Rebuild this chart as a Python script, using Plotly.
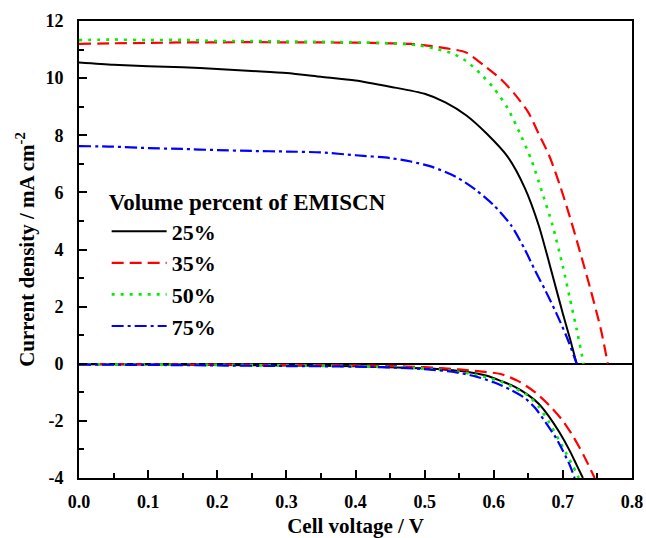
import plotly.graph_objects as go

# ---------------- data ----------------
labels = ["25%", "35%", "50%", "75%"]
colors = ["#000000", "#ff0000", "#00ee00", "#0000ff"]
dashes = ["solid", "12px,6px", "3px,6px", "12px,4px,3px,4px"]
widths = [2, 2.2, 2.6, 2.2]

x_tickvals = [0.0, 0.1, 0.2, 0.3, 0.4, 0.5, 0.6, 0.7, 0.8]
x_ticktext = ["0.0", "0.1", "0.2", "0.3", "0.4", "0.5", "0.6", "0.7", "0.8"]
y_tickvals = [-4, -2, 0, 2, 4, 6, 8, 10, 12]
y_ticktext = ["-4", "-2", "0", "2", "4", "6", "8", "10", "12"]

# illuminated J-V curves (upper part)
v_light_25 = [0, 0.05, 0.1, 0.15, 0.2, 0.25, 0.3, 0.35, 0.4, 0.45, 0.5, 0.53, 0.56, 0.59, 0.62, 0.645, 0.665, 0.685, 0.70, 0.71, 0.72]
j_light_25 = [10.55, 10.47, 10.42, 10.38, 10.32, 10.25, 10.18, 10.05, 9.92, 9.7, 9.45, 9.15, 8.7, 8.05, 7.25, 6.15, 4.85, 3.1, 1.75, 0.9, 0.0]

v_light_35 = [0, 0.05, 0.1, 0.15, 0.2, 0.25, 0.3, 0.35, 0.4, 0.45, 0.48, 0.51, 0.535, 0.56, 0.585, 0.61, 0.63, 0.65, 0.665, 0.68, 0.695, 0.71, 0.725, 0.74, 0.755, 0.765]
j_light_35 = [11.2, 11.22, 11.23, 11.25, 11.25, 11.26, 11.25, 11.25, 11.24, 11.22, 11.2, 11.12, 11.03, 10.9, 10.46, 9.97, 9.45, 8.8, 8.05, 7.3, 6.3, 5.15, 3.9, 2.6, 1.2, 0.0]

v_light_50 = [0, 0.05, 0.1, 0.15, 0.2, 0.25, 0.3, 0.35, 0.4, 0.45, 0.49, 0.515, 0.54, 0.56, 0.58, 0.6, 0.62, 0.64, 0.655, 0.67, 0.685, 0.70, 0.71, 0.72, 0.73]
j_light_50 = [11.33, 11.35, 11.33, 11.34, 11.3, 11.3, 11.28, 11.27, 11.25, 11.22, 11.15, 11.03, 10.87, 10.6, 10.17, 9.65, 8.95, 7.95, 7.1, 6.0, 4.85, 3.4, 2.3, 1.2, 0.0]

v_light_75 = [0, 0.05, 0.1, 0.15, 0.2, 0.25, 0.3, 0.35, 0.4, 0.45, 0.48, 0.51, 0.545, 0.575, 0.6, 0.625, 0.645, 0.66, 0.675, 0.69, 0.705, 0.72]
j_light_75 = [7.62, 7.6, 7.55, 7.52, 7.48, 7.45, 7.43, 7.4, 7.3, 7.2, 7.08, 6.9, 6.55, 6.07, 5.55, 4.85, 4.0, 3.25, 2.55, 1.8, 0.97, 0.0]

# dark-current curves (lower part)
v_dark_25 = [0, 0.1, 0.2, 0.3, 0.4, 0.45, 0.5, 0.53, 0.56, 0.59, 0.61, 0.63, 0.65, 0.665, 0.68, 0.695, 0.71, 0.72, 0.729]
j_dark_25 = [-0.02, -0.03, -0.04, -0.06, -0.09, -0.12, -0.16, -0.21, -0.28, -0.42, -0.6, -0.8, -1.1, -1.4, -1.85, -2.4, -3.05, -3.55, -4.0]

v_dark_35 = [0, 0.1, 0.2, 0.3, 0.4, 0.45, 0.5, 0.55, 0.58, 0.61, 0.635, 0.66, 0.68, 0.70, 0.715, 0.73, 0.746]
j_dark_35 = [-0.01, -0.02, -0.03, -0.04, -0.06, -0.08, -0.12, -0.2, -0.27, -0.36, -0.6, -1.0, -1.45, -2.0, -2.55, -3.2, -4.0]

v_dark_50 = [0, 0.1, 0.2, 0.3, 0.4, 0.45, 0.5, 0.55, 0.58, 0.61, 0.63, 0.65, 0.665, 0.68, 0.695, 0.705, 0.715, 0.723]
j_dark_50 = [-0.02, -0.03, -0.04, -0.06, -0.09, -0.12, -0.17, -0.28, -0.42, -0.62, -0.85, -1.12, -1.5, -2.05, -2.7, -3.15, -3.6, -4.0]

v_dark_75 = [0, 0.1, 0.2, 0.3, 0.4, 0.45, 0.5, 0.54, 0.57, 0.6, 0.625, 0.645, 0.66, 0.675, 0.69, 0.70, 0.71, 0.717]
j_dark_75 = [-0.03, -0.04, -0.06, -0.08, -0.1, -0.13, -0.19, -0.28, -0.42, -0.65, -0.92, -1.2, -1.55, -2.05, -2.6, -3.05, -3.55, -4.0]

light = [(v_light_25, j_light_25), (v_light_35, j_light_35), (v_light_50, j_light_50), (v_light_75, j_light_75)]
dark = [(v_dark_25, j_dark_25), (v_dark_35, j_dark_35), (v_dark_50, j_dark_50), (v_dark_75, j_dark_75)]

FONT = "Liberation Serif"

fig = go.Figure()
for i, lab in enumerate(labels):
    line = dict(color=colors[i], dash=dashes[i], width=widths[i], shape="spline", smoothing=0.7)
    fig.add_trace(go.Scatter(x=light[i][0], y=light[i][1], mode="lines", name=lab,
                             line=line, legendgroup=lab, showlegend=True))
    fig.add_trace(go.Scatter(x=dark[i][0], y=dark[i][1], mode="lines", name=lab,
                             line=line, legendgroup=lab, showlegend=False))

axis_common = dict(
    showline=True, linecolor="black", linewidth=2, mirror=True,
    ticks="inside", ticklen=8, tickwidth=2, tickcolor="black",
    showgrid=False, automargin=False,
    tickfont=dict(family=FONT, size=18, color="black", weight="bold"),
)

fig.update_xaxes(
    range=[0, 0.8], tickmode="array", tickvals=x_tickvals, ticktext=x_ticktext, zeroline=False,
    ticklabelstandoff=6,
    minor=dict(ticks="inside", ticklen=5, tickwidth=2, tickcolor="black", dtick=0.05),
    title=dict(text="Cell voltage / V", font=dict(family=FONT, size=21, color="black", weight="bold"), standoff=12),
    **axis_common,
)
fig.update_yaxes(
    range=[-4, 12], tickmode="array", tickvals=y_tickvals, ticktext=y_ticktext,
    zeroline=True, zerolinecolor="black", zerolinewidth=2,
    ticklabelstandoff=10,
    minor=dict(ticks="inside", ticklen=5, tickwidth=2, tickcolor="black", dtick=1),
    title=dict(text="Current density / mA cm<sup>-2</sup>", font=dict(family=FONT, size=21, color="black", weight="bold"), standoff=5),
    **axis_common,
)

fig.update_layout(
    width=646, height=538,
    margin=dict(l=79, r=14, t=21, b=60),
    paper_bgcolor="white", plot_bgcolor="white",
    showlegend=True,
    legend=dict(
        x=0.05, y=0.651, xanchor="left", yanchor="top",
        bgcolor="rgba(0,0,0,0)",
        title=dict(text="Volume percent of EMISCN", font=dict(family=FONT, size=23, color="black", weight="bold")),
        font=dict(family=FONT, size=22, color="black", weight="bold"),
        itemwidth=55,
        tracegroupgap=0,
    ),
)

fig.write_html("out.html", config={"displayModeBar": False},
               post_script="document.body.style.margin='0px';")
